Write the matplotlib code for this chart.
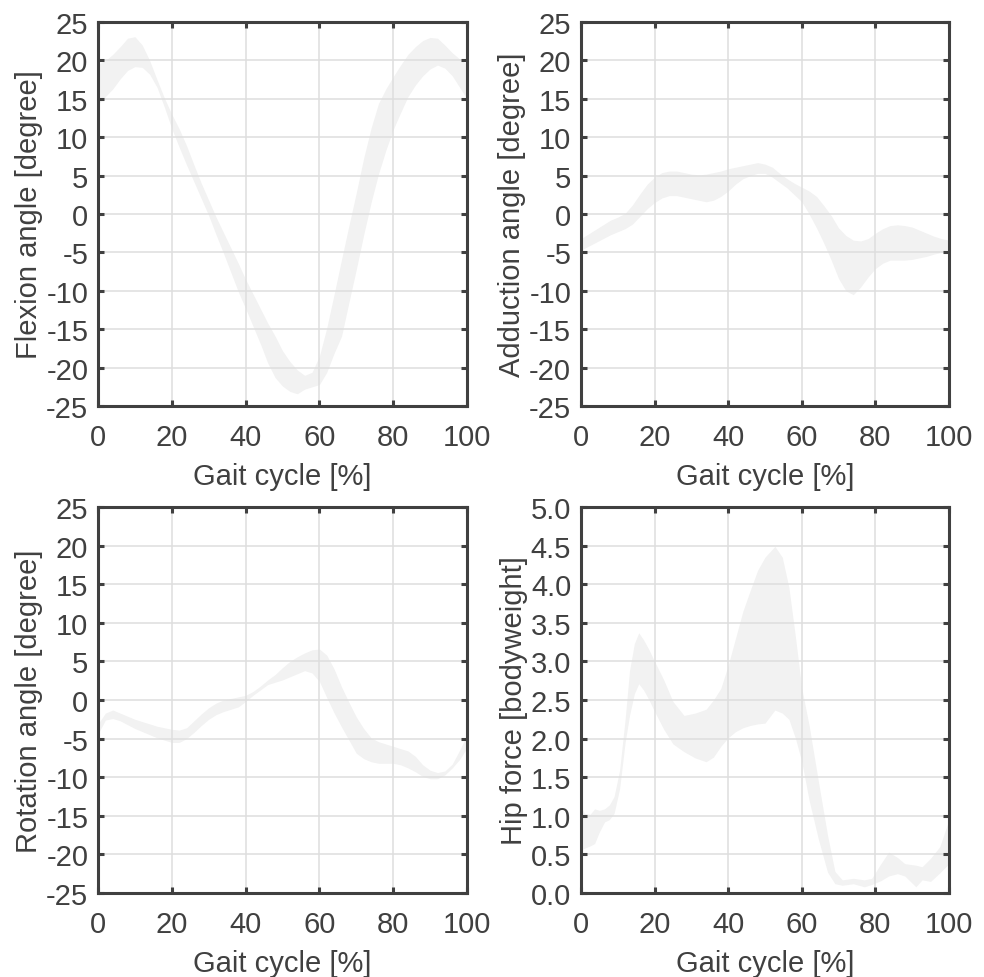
import numpy as np
import matplotlib.pyplot as plt
from matplotlib.ticker import FormatStrFormatter

# ── MATLAB-like look ──────────────────────────────────────────────────────
AX_COLOR = "#404040"
BAND_COLOR = "#f2f2f2"
GRID_COLOR = "#dedede"

plt.rcParams.update({
    "font.family": "sans-serif",
    "font.sans-serif": ["Liberation Sans", "Arial", "DejaVu Sans"],
    "font.size": 21,
    "axes.edgecolor": AX_COLOR,
    "axes.labelcolor": AX_COLOR,
    "xtick.color": AX_COLOR,
    "ytick.color": AX_COLOR,
    "axes.linewidth": 2.2,
})

# ── Data ──────────────────────────────────────────────────────────────────
gait = np.arange(0, 101, 2)

flex_upper = [19.5, 20.0, 20.8, 21.8, 22.9, 23.1, 22.0, 20.0, 17.5, 15.1,
              13.0, 11.1, 8.9, 6.4, 4.0, 1.8, -0.4, -2.4, -4.4, -6.4,
              -8.5, -10.4, -12.3, -14.2, -15.9, -17.8, -19.2, -20.3, -21.0, -20.6,
              -18.5, -14.8, -10.4, -5.9, -1.5, 2.8, 7.3, 11.2, 14.4, 16.3,
              17.9, 19.4, 20.8, 21.8, 22.6, 23.0, 22.9, 22.0, 21.0, 20.2,
              19.5]
flex_lower = [14.3, 15.3, 16.3, 17.6, 18.7, 19.2, 19.1, 18.2, 16.5, 13.9,
              11.1, 8.7, 6.4, 4.2, 2.0, -0.2, -2.7, -5.1, -7.6, -10.1,
              -12.3, -14.6, -16.9, -19.4, -21.3, -22.4, -23.1, -23.4, -22.8, -22.5,
              -22.2, -20.6, -18.1, -15.9, -11.5, -7.2, -2.7, 1.5, 5.2, 8.3,
              11.0, 13.2, 15.3, 16.8, 18.0, 18.9, 19.4, 19.0, 18.0, 16.5,
              15.0]

add_upper = [-3.2, -2.6, -2.0, -1.4, -0.8, -0.4, 0.1, 1.2, 2.6, 3.9,
             4.8, 5.4, 5.6, 5.6, 5.4, 5.2, 5.1, 5.2, 5.4, 5.6,
             5.9, 6.1, 6.3, 6.5, 6.7, 6.5, 6.1, 5.3, 4.6, 4.0,
             3.5, 3.0, 2.3, 1.1, -0.2, -1.8, -2.8, -3.4, -3.5, -3.2,
             -2.5, -1.9, -1.5, -1.4, -1.5, -1.7, -2.1, -2.5, -2.9, -3.2,
             -3.4]
add_lower = [-4.7, -4.2, -3.7, -3.2, -2.7, -2.3, -1.9, -1.3, -0.3, 0.7,
             1.5, 2.1, 2.4, 2.4, 2.2, 2.0, 1.8, 1.6, 1.8, 2.3,
             3.0, 3.9, 4.6, 5.0, 5.3, 5.3, 4.8, 4.1, 3.4, 2.5,
             1.6, 0.0, -1.8, -3.8, -6.0, -8.4, -10.0, -10.5, -9.5, -8.2,
             -7.1, -6.4, -6.0, -6.0, -6.0, -5.9, -5.7, -5.5, -5.2, -5.0,
             -4.8]

rot_upper = [-3.1, -1.7, -1.3, -1.7, -2.1, -2.5, -2.8, -3.1, -3.4, -3.6,
             -3.8, -3.9, -3.6, -2.7, -1.8, -1.0, -0.4, 0.0, 0.2, 0.4,
             0.6, 1.1, 1.8, 2.6, 3.3, 4.2, 5.0, 5.6, 6.1, 6.5,
             6.6, 5.8, 4.0, 1.7, -0.3, -2.2, -3.7, -4.9, -5.4, -5.7,
             -6.0, -6.3, -6.6, -7.3, -8.4, -9.1, -9.4, -9.2, -8.3, -6.5,
             -4.5]
rot_lower = [-4.4, -2.6, -2.4, -2.7, -3.2, -3.7, -4.1, -4.5, -4.9, -5.2,
             -5.5, -5.5, -5.0, -4.2, -3.3, -2.5, -1.9, -1.5, -1.2, -0.9,
             -0.2, 0.6, 1.3, 2.0, 2.3, 2.6, 3.0, 3.4, 3.8, 3.5,
             2.4, 0.3, -1.7, -3.5, -5.2, -6.9, -7.6, -8.0, -8.2, -8.2,
             -8.2, -8.4, -8.8, -9.3, -9.9, -10.2, -10.2, -9.7, -8.8, -7.7,
             -6.2]

hip_x = [0, 1, 2.5, 3.7, 5, 6.4, 7.7, 9, 10.5, 12,
         13.2, 14.5, 15.7, 17, 18.5, 20, 22.5, 25, 28, 31,
         34, 36, 38, 40, 42, 44, 46, 48, 50, 52.7,
         54.7, 56.5, 58.3, 60, 62, 64.5, 67, 69, 71, 74,
         77, 79, 81.5, 83.6, 86, 88, 91, 92.7, 95, 97.5,
         100]
hip_upper = [1.12, 1.03, 1.02, 1.09, 1.07, 1.09, 1.14, 1.25, 1.59, 2.25,
             2.88, 3.23, 3.37, 3.28, 3.15, 3.0, 2.76, 2.48, 2.30, 2.33,
             2.38, 2.5, 2.65, 2.95, 3.3, 3.65, 3.92, 4.18, 4.35, 4.49,
             4.35, 3.96, 3.31, 2.65, 2.17, 1.45, 0.75, 0.28, 0.17, 0.19,
             0.17, 0.19, 0.38, 0.53, 0.46, 0.38, 0.36, 0.34, 0.45, 0.6,
             0.95]
hip_lower = [0.56, 0.58, 0.61, 0.64, 0.79, 0.92, 0.95, 1.03, 1.35, 1.95,
             2.3, 2.58, 2.71, 2.63, 2.5, 2.35, 2.12, 1.93, 1.83, 1.75,
             1.70, 1.76, 1.9, 2.01, 2.09, 2.14, 2.17, 2.19, 2.2, 2.37,
             2.33, 2.25, 2.0, 1.7, 1.2, 0.7, 0.27, 0.12, 0.1, 0.12,
             0.08, 0.11, 0.16, 0.22, 0.25, 0.22, 0.08, 0.17, 0.15, 0.26,
             0.38]

angle_ticks = np.arange(-25, 26, 5)
force_ticks = np.arange(0, 5.01, 0.5)
x_ticks = np.arange(0, 101, 20)

# ── Figure ────────────────────────────────────────────────────────────────
fig = plt.figure(figsize=(9.84, 9.78), dpi=100)

ax_flex = fig.add_axes([0.0996, 0.5838, 0.375, 0.3926])
ax_add = fig.add_axes([0.5904, 0.5838, 0.374, 0.3926])
ax_rot = fig.add_axes([0.0996, 0.0859, 0.375, 0.3947])
ax_hip = fig.add_axes([0.5904, 0.0859, 0.374, 0.3947])

panels = [
    (ax_flex, gait, flex_lower, flex_upper, angle_ticks, "Flexion angle [degree]", "%g"),
    (ax_add, gait, add_lower, add_upper, angle_ticks, "Adduction angle [degree]", "%g"),
    (ax_rot, gait, rot_lower, rot_upper, angle_ticks, "Rotation angle [degree]", "%g"),
    (ax_hip, hip_x, hip_lower, hip_upper, force_ticks, "Hip force [bodyweight]", "%.1f"),
]

for ax, x, lo, hi, yticks, ylabel, fmt in panels:
    ax.fill_between(x, lo, hi, color=BAND_COLOR, linewidth=0, zorder=1)
    ax.set_axisbelow("line")  # grid drawn over the band, like the original
    ax.grid(True, color=GRID_COLOR, linewidth=1.1)
    ax.set_xlim(0, 100)
    ax.set_ylim(yticks[0], yticks[-1])
    ax.set_xticks(x_ticks)
    ax.set_yticks(yticks)
    ax.yaxis.set_major_formatter(FormatStrFormatter(fmt))
    ax.tick_params(direction="in", top=True, right=True, length=4.5, width=2.2)
    ax.tick_params(axis="x", pad=12)
    ax.tick_params(axis="y", pad=7)
    ax.set_xlabel("Gait cycle [%]", labelpad=8)
    ax.set_ylabel(ylabel, labelpad=2)

fig.savefig("out.png", dpi=100)
plt.close(fig)
